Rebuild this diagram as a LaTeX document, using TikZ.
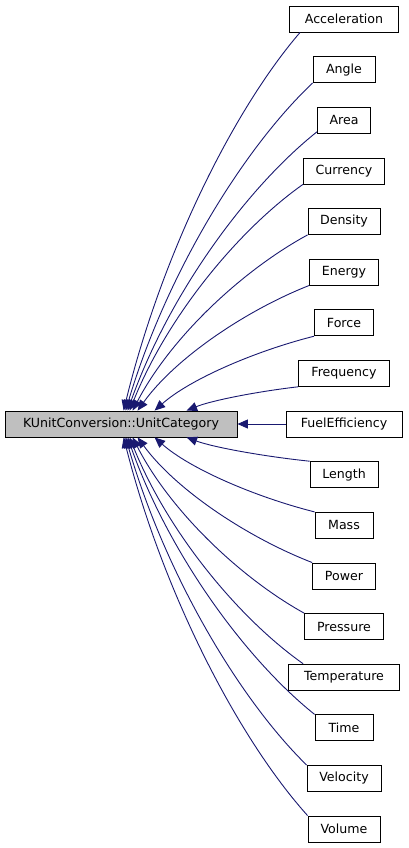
\documentclass[tikz,border=0pt]{standalone}
\usepackage{fontspec}
\setmainfont{DejaVu Sans}
\usetikzlibrary{arrows.meta,calc}
\definecolor{edgeblue}{RGB}{25,25,112}
\definecolor{maingray}{RGB}{191,191,191}
\newcommand\edgeto[2]{\draw[edge] let \p1=(#1), \p2=(#2) in (\p1) .. controls ({\x1+0.37*(\x2-\x1)},{\y1+0.2*(\y2-\y1)}) and ({\x2+0.22*(\x1-\x2)},{\y2+0.42*(\y1-\y2)}) .. (\p2);}
\begin{document}
\begin{tikzpicture}[x=1pt,y=-1pt,
  box/.style={draw=black, line width=0.8pt, fill=white, minimum height=26pt, inner sep=0pt, font=\fontsize{12.6}{14}\selectfont},
  edge/.style={draw=edgeblue, line width=0.9pt, -{Triangle[length=10.5pt,width=9pt]}}]
\useasboundingbox (0,0) rectangle (408,848);
\node[box, fill=maingray, minimum width=232pt] (main) at (121,424) {KUnitConversion::UnitCategory};
\node[box, minimum width=109pt] (acc)  at (344,19)   {Acceleration};
\node[box, minimum width=62pt]  (ang)  at (344,69.6) {Angle};
\node[box, minimum width=53pt]  (area) at (344,120.3) {Area};
\node[box, minimum width=81pt]  (cur)  at (344,170.9) {Currency};
\node[box, minimum width=72pt]  (den)  at (344,221.5) {Density};
\node[box, minimum width=69pt]  (ene)  at (344,272.1) {Energy};
\node[box, minimum width=59pt]  (for)  at (344,322.8) {Force};
\node[box, minimum width=91pt]  (fre)  at (344,373.4) {Frequency};
\node[box, minimum width=116pt] (fuel) at (344,424)  {FuelEfficiency};
\node[box, minimum width=68pt]  (len)  at (344,474.6) {Length};
\node[box, minimum width=58pt]  (mass) at (344,525.3) {Mass};
\node[box, minimum width=63pt]  (pow)  at (344,575.9) {Power};
\node[box, minimum width=79pt]  (pre)  at (344,626.5) {Pressure};
\node[box, minimum width=111pt] (tem)  at (344,677.1) {Temperature};
\node[box, minimum width=58pt]  (time) at (344,727.8) {Time};
\node[box, minimum width=74pt]  (vel)  at (344,778.4) {Velocity};
\node[box, minimum width=72pt]  (vol)  at (344,829)  {Volume};
% attach points on the right nodes
\coordinate (sAcc)  at ([xshift=11pt]acc.south west);
\coordinate (sAng)  at (ang.south west);
\coordinate (sArea) at ([yshift=2pt]area.south west);
\coordinate (sCur)  at (cur.south west);
\coordinate (sDen)  at (den.south west);
\coordinate (sEne)  at (ene.south west);
\coordinate (sFor)  at (for.south west);
\coordinate (sFre)  at (fre.south west);
\coordinate (sLen)  at (len.north west);
\coordinate (sMass) at (mass.north west);
\coordinate (sPow)  at (pow.north west);
\coordinate (sPre)  at (pre.north west);
\coordinate (sTem)  at ([xshift=15pt]tem.north west);
\coordinate (sTime) at (time.north west);
\coordinate (sVel)  at (vel.north west);
\coordinate (sVol)  at (vol.north west);
% arrow tips on the main node
\coordinate (tAcc)  at ([xshift=119pt]main.north west);
\coordinate (tAng)  at ([xshift=121pt]main.north west);
\coordinate (tArea) at ([xshift=123pt]main.north west);
\coordinate (tCur)  at ([xshift=125pt]main.north west);
\coordinate (tDen)  at ([xshift=128pt]main.north west);
\coordinate (tEne)  at ([xshift=133pt]main.north west);
\coordinate (tFor)  at ([xshift=150pt]main.north west);
\coordinate (tFre)  at ([xshift=182pt]main.north west);
\coordinate (tLen)  at ([xshift=182pt]main.south west);
\coordinate (tMass) at ([xshift=150pt]main.south west);
\coordinate (tPow)  at ([xshift=133pt]main.south west);
\coordinate (tPre)  at ([xshift=128pt]main.south west);
\coordinate (tTem)  at ([xshift=125pt]main.south west);
\coordinate (tTime) at ([xshift=123pt]main.south west);
\coordinate (tVel)  at ([xshift=121pt]main.south west);
\coordinate (tVol)  at ([xshift=119pt]main.south west);
\edgeto{sAcc}{tAcc}
\edgeto{sAng}{tAng}
\edgeto{sArea}{tArea}
\edgeto{sCur}{tCur}
\edgeto{sDen}{tDen}
\edgeto{sEne}{tEne}
\edgeto{sFor}{tFor}
\edgeto{sFre}{tFre}
\draw[edge] (fuel.west) -- (main.east);
\edgeto{sLen}{tLen}
\edgeto{sMass}{tMass}
\edgeto{sPow}{tPow}
\edgeto{sPre}{tPre}
\edgeto{sTem}{tTem}
\edgeto{sTime}{tTime}
\edgeto{sVel}{tVel}
\edgeto{sVol}{tVol}
\end{tikzpicture}
\end{document}
